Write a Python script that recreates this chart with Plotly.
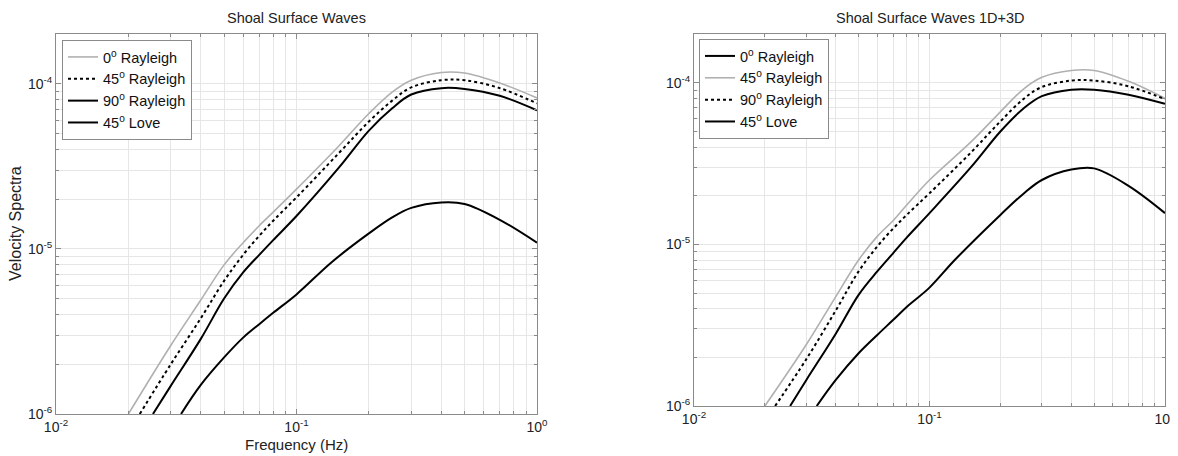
import numpy as np
import plotly.graph_objects as go

# ---------------- data ----------------
# Left panel: "Shoal Surface Waves"
L_r0_f = [0.02, 0.03, 0.04, 0.05, 0.06, 0.07, 0.08, 0.1, 0.15, 0.2, 0.25, 0.3, 0.4, 0.5, 0.7, 1.0]
L_r0_v = [1.0e-6, 2.6e-6, 4.9e-6, 8.0e-6, 1.09e-5, 1.38e-5, 1.67e-5, 2.3e-5, 4.2e-5, 6.6e-5, 8.9e-5, 1.05e-4, 1.17e-4, 1.16e-4, 1.01e-4, 8.2e-5]

L_r45_f = [0.0223, 0.03, 0.04, 0.05, 0.06, 0.07, 0.08, 0.1, 0.15, 0.2, 0.25, 0.3, 0.4, 0.5, 0.7, 1.0]
L_r45_v = [1.0e-6, 2.0e-6, 3.8e-6, 6.4e-6, 9.2e-6, 1.2e-5, 1.48e-5, 2.05e-5, 3.8e-5, 5.9e-5, 7.9e-5, 9.5e-5, 1.05e-4, 1.05e-4, 9.4e-5, 7.6e-5]

L_r90_f = [0.0253, 0.03, 0.04, 0.05, 0.06, 0.07, 0.08, 0.1, 0.15, 0.2, 0.25, 0.3, 0.4, 0.5, 0.7, 1.0]
L_r90_v = [1.0e-6, 1.48e-6, 2.85e-6, 5.0e-6, 7.2e-6, 9.2e-6, 1.13e-5, 1.58e-5, 3.1e-5, 5.2e-5, 7.1e-5, 8.6e-5, 9.4e-5, 9.3e-5, 8.45e-5, 6.9e-5]

L_love_f = [0.0331, 0.04, 0.05, 0.06, 0.07, 0.08, 0.1, 0.14, 0.2, 0.25, 0.3, 0.4, 0.5, 0.7, 1.0]
L_love_v = [1.0e-6, 1.5e-6, 2.2e-6, 2.9e-6, 3.5e-6, 4.1e-6, 5.3e-6, 8.3e-6, 1.24e-5, 1.55e-5, 1.77e-5, 1.91e-5, 1.87e-5, 1.5e-5, 1.09e-5]

# Right panel: "Shoal Surface Waves 1D+3D"
R_r0_f = [0.0256, 0.03, 0.04, 0.05, 0.06, 0.07, 0.08, 0.1, 0.15, 0.2, 0.25, 0.3, 0.4, 0.5, 0.7, 1.0]
R_r0_v = [1.0e-6, 1.45e-6, 2.8e-6, 4.87e-6, 6.8e-6, 8.8e-6, 1.1e-5, 1.56e-5, 3.0e-5, 4.99e-5, 6.9e-5, 8.25e-5, 9.05e-5, 9.05e-5, 8.43e-5, 7.4e-5]

R_r45_f = [0.02, 0.03, 0.04, 0.05, 0.06, 0.07, 0.08, 0.1, 0.15, 0.2, 0.25, 0.3, 0.4, 0.5, 0.7, 1.0]
R_r45_v = [1.0e-6, 2.4e-6, 4.75e-6, 8.0e-6, 1.12e-5, 1.4e-5, 1.75e-5, 2.5e-5, 4.3e-5, 6.6e-5, 9.1e-5, 1.08e-4, 1.19e-4, 1.19e-4, 1.02e-4, 8.0e-5]

R_r90_f = [0.0221, 0.03, 0.04, 0.05, 0.06, 0.07, 0.08, 0.1, 0.15, 0.2, 0.25, 0.3, 0.4, 0.5, 0.7, 1.0]
R_r90_v = [1.0e-6, 1.95e-6, 3.9e-6, 6.8e-6, 9.7e-6, 1.25e-5, 1.52e-5, 2.07e-5, 3.7e-5, 5.76e-5, 7.9e-5, 9.4e-5, 1.03e-4, 1.03e-4, 9.5e-5, 7.9e-5]

R_love_f = [0.0332, 0.04, 0.05, 0.06, 0.07, 0.08, 0.1, 0.128, 0.2, 0.25, 0.3, 0.4, 0.5, 0.7, 1.0]
R_love_v = [1.0e-6, 1.45e-6, 2.12e-6, 2.75e-6, 3.4e-6, 4.1e-6, 5.4e-6, 8.0e-6, 1.52e-5, 2.05e-5, 2.5e-5, 2.9e-5, 2.95e-5, 2.3e-5, 1.56e-5]

titles = ["Shoal Surface Waves", "Shoal Surface Waves 1D+3D"]
x_label = "Frequency (Hz)"
y_label = "Velocity Spectra"
x_major = [0.01, 0.1, 1.0]
x_major_text = ["10<sup>-2</sup>", "10<sup>-1</sup>", "10<sup>0</sup>"]
y_major = [1e-6, 1e-5, 1e-4]
y_major_text = ["10<sup>-6</sup>", "10<sup>-5</sup>", "10<sup>-4</sup>"]

# ---------------- styling ----------------
SCREEN_W, SCREEN_H = 1178, 456
OFF = 8  # default page-body margin of the html page
W, H = SCREEN_W - OFF, SCREEN_H - OFF
FONT = "Arial, Liberation Sans, Helvetica, sans-serif"
GRAY = "#b0b0b0"
BLACK = "#000000"
GRID = "#e6e6e6"
AXC = "#8a8a8a"
TXT = "#222222"

# pixel geometry of the two axes boxes (screen pixels)
L_x0, L_x1, L_y0, L_y1 = 56, 537, 34, 414
R_x0, R_x1, R_y0, R_y1 = 694, 1165, 34, 406
ML, MR, MT, MB = L_x0 - OFF, SCREEN_W - R_x1, L_y0 - OFF, SCREEN_H - L_y1
PW, PH = W - ML - MR, H - MT - MB


def px(xs):
    return (xs - OFF - ML) / PW


def py(ys):
    return (H - MB - (ys - OFF)) / PH


fig = go.Figure()


def add(f, v, name, color, width, dash, xa, ya, leg):
    fig.add_trace(go.Scatter(
        x=f, y=v, mode="lines", name=name,
        line=dict(color=color, width=width, dash=dash, shape="spline", smoothing=1.0),
        xaxis=xa, yaxis=ya, legend=leg, cliponaxis=True,
    ))


add(L_r0_f, L_r0_v, "0<sup>o</sup> Rayleigh", GRAY, 1.6, "solid", "x", "y", "legend")
add(L_r45_f, L_r45_v, "45<sup>o</sup> Rayleigh", BLACK, 2, "dot", "x", "y", "legend")
add(L_r90_f, L_r90_v, "90<sup>o</sup> Rayleigh", BLACK, 2, "solid", "x", "y", "legend")
add(L_love_f, L_love_v, "45<sup>o</sup> Love", BLACK, 2, "solid", "x", "y", "legend")

add(R_r0_f, R_r0_v, "0<sup>o</sup> Rayleigh", BLACK, 2, "solid", "x2", "y2", "legend2")
add(R_r45_f, R_r45_v, "45<sup>o</sup> Rayleigh", GRAY, 1.6, "solid", "x2", "y2", "legend2")
add(R_r90_f, R_r90_v, "90<sup>o</sup> Rayleigh", BLACK, 2, "dot", "x2", "y2", "legend2")
add(R_love_f, R_love_v, "45<sup>o</sup> Love", BLACK, 2, "solid", "x2", "y2", "legend2")

x_minor = [m * 10.0 ** e for e in (-2, -1) for m in range(2, 10)]
y_minor = [m * 10.0 ** e for e in (-6, -5, -4) for m in range(2, 10) if m * 10.0 ** e <= 2.0001e-4]

common_axis = dict(
    type="log", showline=True, linecolor=AXC, linewidth=1, mirror="ticks",
    ticks="inside", ticklen=5, tickcolor=AXC, showgrid=True, gridcolor=GRID, gridwidth=1,
    tickfont=dict(family=FONT, size=14, color=TXT), zeroline=False, automargin=False,
)


def xax(domain, anchor):
    return dict(common_axis, domain=domain, anchor=anchor, range=[-2, 0],
                tickmode="array", tickvals=x_major, ticktext=x_major_text,
                minor=dict(tickmode="array", tickvals=x_minor, ticks="inside", ticklen=3,
                           tickcolor=AXC, showgrid=True, gridcolor=GRID, gridwidth=1))


def yax(domain, anchor):
    return dict(common_axis, domain=domain, anchor=anchor, range=[-6, float(np.log10(2e-4))],
                tickmode="array", tickvals=y_major, ticktext=y_major_text,
                minor=dict(tickmode="array", tickvals=y_minor, ticks="inside", ticklen=3,
                           tickcolor=AXC, showgrid=True, gridcolor=GRID, gridwidth=1))


legend_style = dict(xanchor="left", yanchor="top", bgcolor="white", bordercolor=AXC, borderwidth=1,
                    font=dict(family=FONT, size=14.5, color="#111111"), tracegroupgap=0)

fig.update_layout(
    width=W, height=H, margin=dict(l=ML, r=MR, t=MT, b=MB, autoexpand=False),
    paper_bgcolor="white", plot_bgcolor="white",
    font=dict(family=FONT, size=12, color=TXT),
    xaxis=xax([px(L_x0), px(L_x1)], "y"),
    yaxis=yax([py(L_y1), py(L_y0)], "x"),
    xaxis2=xax([px(R_x0), px(R_x1)], "y2"),
    yaxis2=yax([py(R_y1), py(R_y0)], "x2"),
    legend=dict(legend_style, x=px(62), y=py(40)),
    legend2=dict(legend_style, x=px(699), y=py(39)),
    showlegend=True,
)

ann = []
ann.append(dict(text=titles[0], x=px((L_x0 + L_x1) / 2), y=py(18), xref="paper", yref="paper",
                showarrow=False, xanchor="center", yanchor="middle", font=dict(family=FONT, size=14.5, color=TXT)))
ann.append(dict(text=titles[1], x=px((R_x0 + R_x1) / 2), y=py(18), xref="paper", yref="paper",
                showarrow=False, xanchor="center", yanchor="middle", font=dict(family=FONT, size=14.5, color=TXT)))
ann.append(dict(text=x_label, x=px((L_x0 + L_x1) / 2), y=py(445), xref="paper", yref="paper",
                showarrow=False, xanchor="center", yanchor="middle", font=dict(family=FONT, size=15, color=TXT)))
ann.append(dict(text=y_label, x=px(15), y=py((L_y0 + L_y1) / 2), xref="paper", yref="paper",
                showarrow=False, xanchor="center", yanchor="middle", textangle=-90,
                font=dict(family=FONT, size=16, color=TXT)))
fig.update_layout(annotations=ann)

fig.write_html("out.html")
